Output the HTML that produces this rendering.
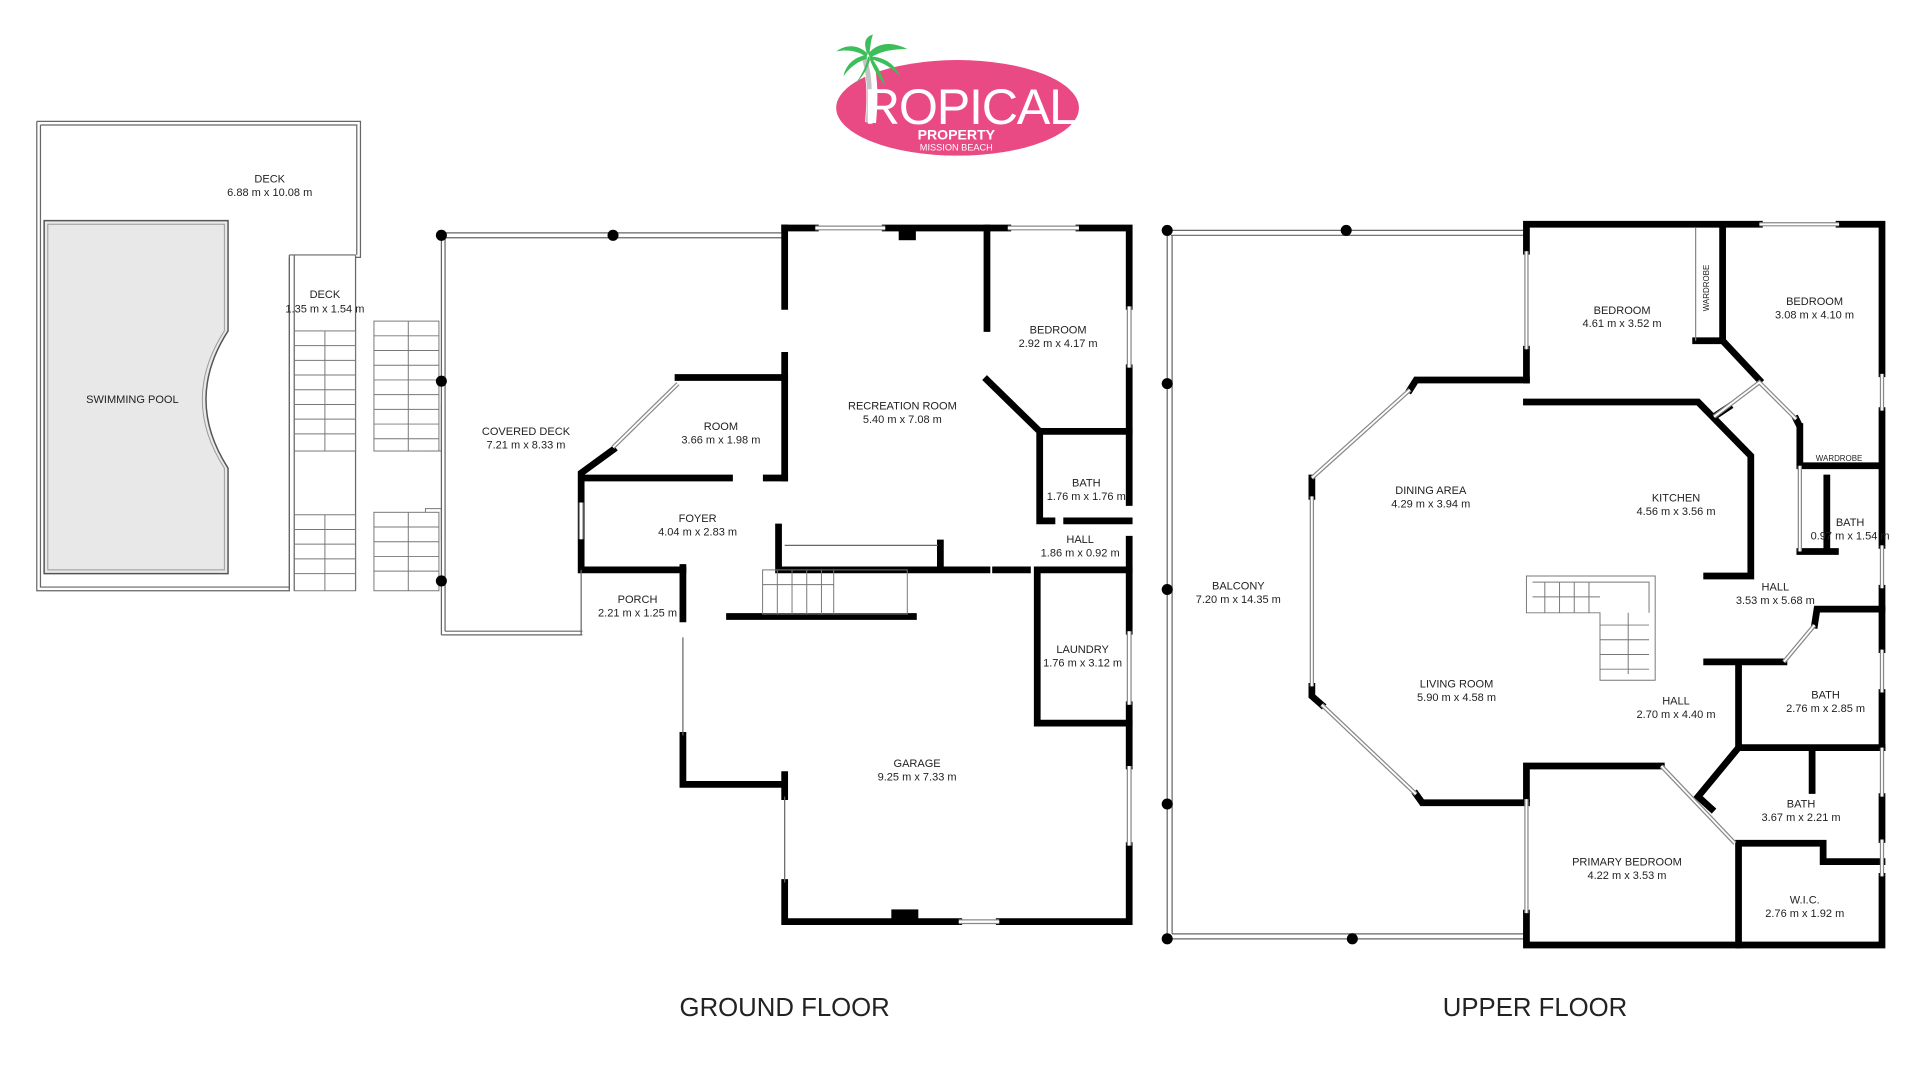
<!DOCTYPE html>
<html><head><meta charset="utf-8"><style>
html,body{margin:0;padding:0;background:#fff;width:1920px;height:1081px;overflow:hidden}
svg{display:block}
text{font-family:"Liberation Sans",sans-serif;fill:#222}
.t{font-size:9px;text-anchor:middle}
.w{stroke:#000;stroke-width:5.5;fill:none;stroke-linecap:square}
.thin{stroke:#666;stroke-width:1;fill:none}
.dbl{stroke:#888;stroke-width:3.5;fill:none}
.dbl2{stroke:#fff;stroke-width:1.5;fill:none}
.st{stroke:#777;stroke-width:0.8;fill:none}
</style></head><body>
<svg width="1920" height="1081" viewBox="0 0 1566 882" preserveAspectRatio="none" xmlns="http://www.w3.org/2000/svg">
<!-- LOGO -->
<ellipse cx="781" cy="88" rx="99" ry="39" fill="#ea4a84"/>
<path d="M710,100 C712,80 712,60 706,45" stroke="#fff" stroke-width="9" fill="none"/>
<path d="M710,100 C712,80 712,60 706,45" stroke="#c4c4c4" stroke-width="4" fill="none" transform="translate(-2,0)"/>
<path d="M708,44 C700,36 690,36 682,42 C692,40 700,42 706,46Z M708,44 C716,34 728,34 740,40 C728,40 718,42 710,47Z M707,45 C698,46 690,52 688,62 C694,54 700,50 707,48Z M709,46 C720,46 730,52 734,62 C726,54 718,50 709,48Z M707,43 C704,34 706,30 712,28 C710,34 710,38 709,44Z M708,46 C706,56 702,62 698,68 C704,62 708,56 710,47Z M710,46 C716,54 720,62 722,70 C716,62 712,56 709,47Z" fill="#3cbf5a"/>
<text x="791" y="101" style="font-size:41px;fill:#fff;text-anchor:middle;letter-spacing:-1px">ROPICAL</text>
<text x="780" y="114" style="font-size:11.5px;font-weight:bold;fill:#fff;text-anchor:middle">PROPERTY</text>
<text x="780" y="123" style="font-size:7.5px;fill:#fff;text-anchor:middle">MISSION BEACH</text>

<!-- POOL DECK -->
<path d="M30,99 H294 V210 H290 M236,210 V482 H30 V99" class="thin"/>
<path d="M33,102 H291 V208 M290,208 H236" class="thin"/>
<path d="M33,102 V479 H236" class="thin"/>
<path d="M236,208 V482 M240,208 V482 M290,208 V482" class="thin"/>
<path d="M36,180 H186 V270 Q150,326 186,382 V468 H36 Z" fill="#e8e8e8" stroke="#555" stroke-width="1.2"/>
<path d="M39,183 H183 V270 Q147,326 183,382 V465 H39 Z" fill="none" stroke="#999" stroke-width="0.8"/>
<text class="t" x="220" y="149">DECK</text><text class="t" x="220" y="160">6.88 m x 10.08 m</text>
<text class="t" x="265" y="243">DECK</text><text class="t" x="265" y="255">1.35 m x 1.54 m</text>
<text class="t" x="108" y="329">SWIMMING POOL</text>
<!-- stairs -->
<g class="st">
<rect x="240" y="270" width="50" height="98"/>
<path d="M240,282 H290 M240,294 H290 M240,306 H290 M240,318 H290 M240,330 H290 M240,342 H290 M240,354 H290 M265,270 V368"/>
<rect x="240" y="420" width="50" height="62"/>
<path d="M240,432 H290 M240,444 H290 M240,456 H290 M240,468 H290 M265,420 V482"/>
<rect x="305" y="262" width="53" height="106"/>
<path d="M305,274 H358 M305,286 H358 M305,298 H358 M305,310 H358 M305,322 H358 M305,334 H358 M305,346 H358 M305,358 H358 M333,262 V368 M347,368 H360 V330"/>
<rect x="305" y="418" width="53" height="64"/>
<path d="M305,430 H358 M305,442 H358 M305,454 H358 M305,466 H358 M333,418 V482 M347,418 V415 H360 V440"/>
</g>
<!-- covered deck -->
<path d="M360,190 H640 M360,194 H640 M360,190 V518 M363,194 V515 M360,518 H475 M363,515 H475" class="thin"/>
<g fill="#000"><circle cx="360" cy="192" r="4.5"/><circle cx="500" cy="192" r="4.5"/><circle cx="360" cy="311" r="4.5"/><circle cx="360" cy="474" r="4.5"/></g>
<text class="t" x="429" y="355">COVERED DECK</text><text class="t" x="429" y="366">7.21 m x 8.33 m</text>

<!-- GROUND FLOOR WALLS -->
<g class="w">
<path d="M640,186 H665 M722,186 H822 M880,186 H921 V250 M921,300 V410 M921,440 V515 M921,575 V625 M921,690 V752 H815 M782,752 H640 V720"/>
<path d="M640,186 V250 M640,290 V390"/>
<path d="M640,308 H553 M500,367 L474,386 V465 H557 M474,390 H595 M625,390 H640"/>
<path d="M805,186 V268 M805,310 L848,352 H921 M848,352 V425 H858 M870,425 H921"/>
<path d="M635,430 V465 H767 V443 M767,465 H805 M848,465 H921 M846,465 V590 H921"/>
<path d="M557,463 V505 M595,503 H745"/>
<path d="M557,600 V640 H640 V632 M640,640 V650"/>
<path d="M812,465 H838"/>
</g>
<rect x="733" y="186" width="14" height="10" fill="#000"/>
<rect x="727" y="742" width="22" height="10" fill="#000"/>
<path d="M553,313 L500,365" class="dbl"/><path d="M553,313 L500,365" class="dbl2"/>
<path d="M665,186 H722 M822,186 H880 M921,250 V300 M921,515 V575 M921,625 V690 M782,752 H815 M474,410 V440" stroke="#888" stroke-width="4"/>
<path d="M665,186 H722 M822,186 H880 M921,250 V300 M921,515 V575 M921,625 V690 M782,752 H815 M474,410 V440" stroke="#fff" stroke-width="2"/>
<path d="M640,445 H765 M474,465 V518 M557,520 V600 M640,650 V720" class="thin"/>
<g class="st"><rect x="622" y="465" width="118" height="36"/>
<path d="M622,477 H680 M634,465 V501 M646,465 V501 M658,465 V501 M670,465 V501 M680,465 V501"/></g>
<text class="t" x="588" y="351">ROOM</text><text class="t" x="588" y="362">3.66 m x 1.98 m</text>
<text class="t" x="736" y="334">RECREATION ROOM</text><text class="t" x="736" y="345">5.40 m x 7.08 m</text>
<text class="t" x="863" y="272">BEDROOM</text><text class="t" x="863" y="283">2.92 m x 4.17 m</text>
<text class="t" x="569" y="426">FOYER</text><text class="t" x="569" y="437">4.04 m x 2.83 m</text>
<text class="t" x="886" y="397">BATH</text><text class="t" x="886" y="408">1.76 m x 1.76 m</text>
<text class="t" x="881" y="443">HALL</text><text class="t" x="881" y="454">1.86 m x 0.92 m</text>
<text class="t" x="520" y="492">PORCH</text><text class="t" x="520" y="503">2.21 m x 1.25 m</text>
<text class="t" x="883" y="533">LAUNDRY</text><text class="t" x="883" y="544">1.76 m x 3.12 m</text>
<text class="t" x="748" y="626">GARAGE</text><text class="t" x="748" y="637">9.25 m x 7.33 m</text>

<!-- UPPER FLOOR -->
<path d="M952,188 H1245 M955,192 H1245 M952,188 V766 M956,192 V762 M952,766 H1245 M956,762 H1245" class="thin"/>
<g fill="#000"><circle cx="952" cy="188" r="4.5"/><circle cx="1098" cy="188" r="4.5"/><circle cx="952" cy="313" r="4.5"/><circle cx="952" cy="481" r="4.5"/><circle cx="952" cy="656" r="4.5"/><circle cx="952" cy="766" r="4.5"/><circle cx="1103" cy="766" r="4.5"/></g>
<text class="t" x="1010" y="481">BALCONY</text><text class="t" x="1010" y="492">7.20 m x 14.35 m</text>
<g class="w">
<path d="M1245,183 H1435 M1500,183 H1535 V305 M1535,335 V445 M1535,480 V530 M1535,565 V610 M1535,650 V685 M1535,715 V771 H1245 V745 M1245,183 V205 M1245,285 V310 M1245,652 V625 H1355"/>
<path d="M1245,328 H1385 L1428,372 V470 H1392"/>
<path d="M1383,278 H1405 M1405,186 V278 L1435,310"/>
<path d="M1465,342 L1468,348 V380 H1530 M1468,348 V380 M1472,380 H1533 M1490,390 V450 M1468,450 H1497"/>
<path d="M1398,340 L1410,332"/>
<path d="M1245,310 H1155 L1150,318 M1070,390 V405 M1070,560 V568 L1078,575 M1155,648 L1160,655 H1245"/>
<path d="M1480,510 L1482,497 H1535 M1392,540 H1455 M1418,540 V610 H1535 M1418,610 L1385,650 L1396,660 M1478,612 V645 M1418,688 H1487 V703 H1535 M1418,688 V771"/>
</g>
<path d="M1383,186 V278" stroke="#888" stroke-width="1"/>
<path d="M1150,318 L1070,390 M1070,405 V560 M1078,575 L1155,648 M1355,625 L1415,688 M1398,340 L1435,312 L1465,342 M1455,540 L1480,510 M1435,183 H1500 M1535,305 V335 M1535,445 V480 M1535,530 V565 M1535,610 V650 M1535,685 V715 M1245,205 V285 M1245,652 V745 M1468,380 V450" class="dbl"/>
<path d="M1150,318 L1070,390 M1070,405 V560 M1078,575 L1155,648 M1355,625 L1415,688 M1398,340 L1435,312 L1465,342 M1455,540 L1480,510 M1435,183 H1500 M1535,305 V335 M1535,445 V480 M1535,530 V565 M1535,610 V650 M1535,685 V715 M1245,205 V285 M1245,652 V745 M1468,380 V450" class="dbl2"/>
<g class="st"><path d="M1245,470 H1350 V555 H1305 V500 H1245 Z M1250,475 H1345 V500 M1250,487 H1305 M1260,475 V500 M1272,475 V500 M1284,475 V500 M1296,475 V500 M1305,510 H1345 M1305,522 H1345 M1305,534 H1345 M1305,546 H1345 M1328,500 V550"/></g>
<text class="t" x="1323" y="256">BEDROOM</text><text class="t" x="1323" y="267">4.61 m x 3.52 m</text>
<text class="t" x="1480" y="249">BEDROOM</text><text class="t" x="1480" y="260">3.08 m x 4.10 m</text>
<text style="font-size:6.5px;text-anchor:middle" x="0" y="0" transform="translate(1394,235) rotate(-90)">WARDROBE</text>
<text style="font-size:6.5px;text-anchor:middle" x="1500" y="376">WARDROBE</text>
<text class="t" x="1167" y="403">DINING AREA</text><text class="t" x="1167" y="414">4.29 m x 3.94 m</text>
<text class="t" x="1367" y="409">KITCHEN</text><text class="t" x="1367" y="420">4.56 m x 3.56 m</text>
<text class="t" x="1509" y="429">BATH</text><text class="t" x="1509" y="440">0.97 m x 1.54 m</text>
<text class="t" x="1448" y="482">HALL</text><text class="t" x="1448" y="493">3.53 m x 5.68 m</text>
<text class="t" x="1188" y="561">LIVING ROOM</text><text class="t" x="1188" y="572">5.90 m x 4.58 m</text>
<text class="t" x="1367" y="575">HALL</text><text class="t" x="1367" y="586">2.70 m x 4.40 m</text>
<text class="t" x="1489" y="570">BATH</text><text class="t" x="1489" y="581">2.76 m x 2.85 m</text>
<text class="t" x="1469" y="659">BATH</text><text class="t" x="1469" y="670">3.67 m x 2.21 m</text>
<text class="t" x="1327" y="706">PRIMARY BEDROOM</text><text class="t" x="1327" y="717">4.22 m x 3.53 m</text>
<text class="t" x="1472" y="737">W.I.C.</text><text class="t" x="1472" y="748">2.76 m x 1.92 m</text>

<text x="640" y="829" style="font-size:21px;text-anchor:middle">GROUND FLOOR</text>
<text x="1252" y="829" style="font-size:21px;text-anchor:middle">UPPER FLOOR</text>
</svg>
</body></html>
